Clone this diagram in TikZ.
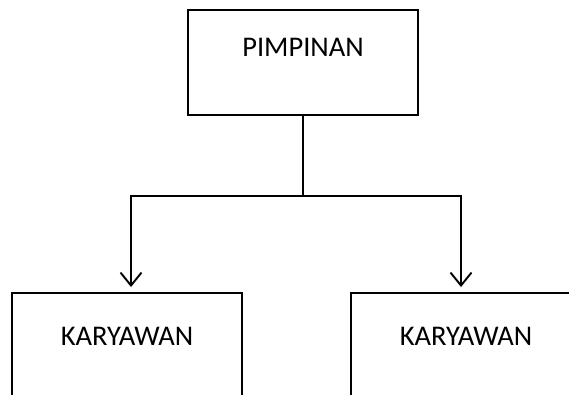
\documentclass[tikz,border=0pt]{standalone}
\usepackage{fontspec}
\setmainfont{Carlito}
\usepackage{tikz}
\usetikzlibrary{arrows.meta}

\tikzset{
	kotak/.style={draw, line width=1.9pt, minimum width=230pt, minimum height=105pt,
		inner sep=0pt, text height=19pt, font=\fontsize{28.5}{34}\selectfont},
	panah/.style={line width=1.9pt, -{Straight Barb[length=13pt,width=21pt,line width=1.9pt]}, shorten >=5pt}
}

\begin{document}
\begin{tikzpicture}[x=1pt, y=-1pt]
	\clip (0,0) rectangle (569,395);
	\node [kotak, text depth=30pt] (pimpinan) at (303,62.5) 
		{PIMPINAN};
	\node [kotak, text depth=20pt] (karyawan1) at (127,345.5) 
		{KARYAWAN};
	\node [kotak, text depth=20pt] (karyawan2) at (466,345.5) 
		{KARYAWAN};
	\coordinate (cabang) at (303,196);
	\draw [line width=1.9pt] (pimpinan) to (cabang);
	\draw [panah] (cabang) -| ([xshift=4pt]karyawan1.north);
	\draw [panah] (cabang) -| ([xshift=-5pt]karyawan2.north);
\end{tikzpicture}
\end{document}
